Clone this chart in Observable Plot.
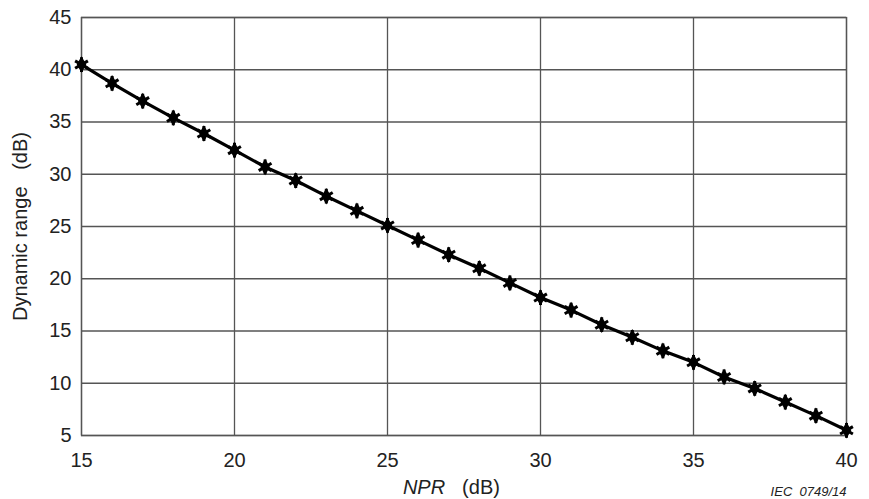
<!DOCTYPE html>
<html><head><meta charset="utf-8">
<script src="https://cdn.jsdelivr.net/npm/d3@7"></script>
<script src="https://cdn.jsdelivr.net/npm/@observablehq/plot@0.6"></script>
<style>body{margin:0;background:#fff;font-family:"Liberation Sans",Arial,sans-serif}</style>
</head><body><div id="chart"></div>
<script>
const npr = [15,16,17,18,19,20,21,22,23,24,25,26,27,28,29,30,31,32,33,34,35,36,37,38,39,40];
const dynamicRange = [40.5,38.7,37.0,35.4,33.9,32.3,30.7,29.4,27.9,26.5,25.1,23.7,22.3,21.0,19.6,18.2,17.0,15.6,14.4,13.1,12.0,10.6,9.5,8.2,6.9,5.5];
const xTicks = [15,20,25,30,35,40];
const yTicks = [5,10,15,20,25,30,35,40,45];
const data = npr.map((x,i)=>({x, y: dynamicRange[i]}));

const chart = Plot.plot({
  width: 869, height: 499,
  marginLeft: 81, marginRight: 23, marginTop: 17, marginBottom: 64,
  style: {fontFamily: '"Liberation Sans", Arial, sans-serif', fontSize: "20px", color: "#222", background: "#fff"},
  x: {domain: [15,40]},
  y: {domain: [5,45]},
  marks: [
    Plot.gridX(xTicks, {stroke: "#555", strokeOpacity: 1, strokeWidth: 1.3}),
    Plot.gridY(yTicks, {stroke: "#555", strokeOpacity: 1, strokeWidth: 1.3}),
    Plot.frame({stroke: "#555", strokeWidth: 1.3}),
    Plot.axisX(xTicks, {tickSize: 0, tickPadding: 17, fontSize: 20, label: null, fill: "#222"}),
    Plot.axisY(yTicks, {tickSize: 0, tickPadding: 10, fontSize: 20, fill: "#222", label: "Dynamic range\u00a0\u00a0 (dB)", labelAnchor: "center", labelOffset: 69, labelArrow: "none"}),
    Plot.line(data, {x: "x", y: "y", stroke: "#000", strokeWidth: 3.2}),
    Plot.dot(data, {x: "x", y: "y", symbol: "asterisk", r: 7, stroke: "#000", strokeWidth: 3}),
    Plot.dot(data, {x: "x", y: "y", symbol: "diamond", r: 5, fill: "#000"}),
    Plot.text(["NPR"], {frameAnchor: "bottom", dx: -40, dy: 52, lineAnchor: "middle", fontStyle: "italic", fontSize: 20, fill: "#222"}),
    Plot.text(["(dB)"], {frameAnchor: "bottom", dx: 17, dy: 52, lineAnchor: "middle", fontSize: 20, fill: "#222"}),
    Plot.text(["IEC  0749/14"], {frameAnchor: "bottom-right", textAnchor: "end", dx: 0, dy: 56, lineAnchor: "middle", fontStyle: "italic", fontSize: 13, fill: "#222"})
  ]
});
document.getElementById("chart").appendChild(chart);
</script></body></html>
